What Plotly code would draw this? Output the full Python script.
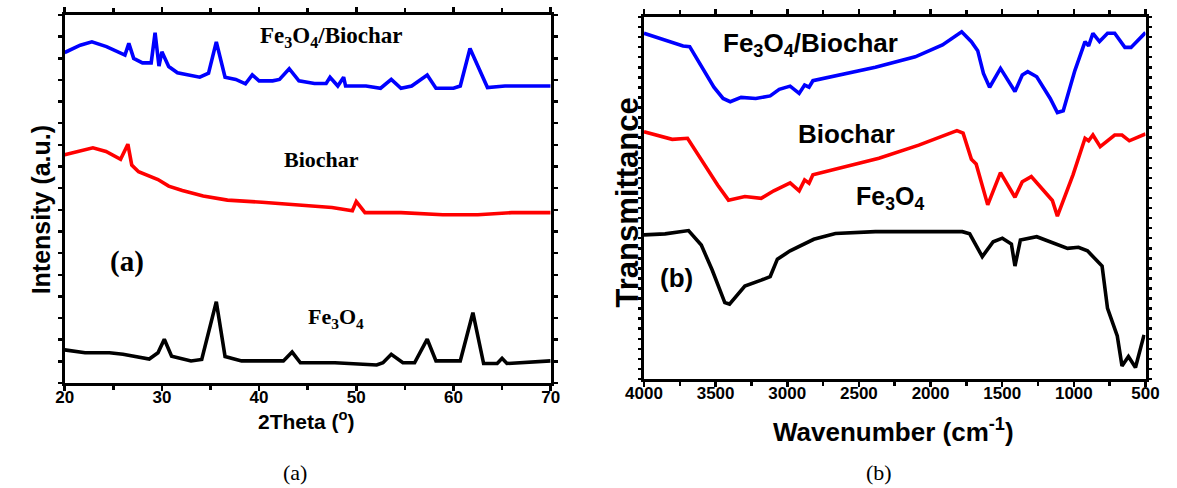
import plotly.graph_objects as go

W, H = 1177, 488

# ---------------- XRD data (panel a) ----------------
theta_fb = [20, 21.6, 22.8, 24.3, 26.2, 26.6, 27.1, 28.0, 28.9, 29.3, 29.7, 30.0, 30.7, 31.6, 33.9,
            34.8, 35.6, 36.5, 37.6, 38.6, 39.3, 40.0, 41.4, 42.1, 43.1, 44.1, 45.7, 46.9, 47.3, 48.1,
            48.7, 48.9, 51.0, 52.5, 53.6, 54.6, 55.7, 57.3, 58.2, 60.0, 60.7, 61.7, 63.5, 65.3, 70]
int_fb = [89.8, 91.8, 92.7, 91.4, 89.1, 92.3, 88.2, 87.0, 87.0, 95.2, 86.1, 90.0, 86.0, 84.3, 83.1,
          84.2, 92.7, 83.1, 82.5, 81.3, 83.7, 82.1, 82.1, 82.5, 85.4, 82.1, 81.4, 81.4, 83.1, 80.7,
          83.1, 80.7, 80.7, 80.1, 82.5, 80.1, 80.7, 83.7, 80.1, 80.1, 80.7, 90.9, 80.3, 80.7, 80.7]

theta_bc = [20, 21.75, 22.9, 24.25, 25.75, 26.5, 26.9, 27.6, 29.6, 30.7, 32.1, 34.25, 36.75, 40.3,
            43.9, 47.5, 49.6, 50.0, 50.9, 54.6, 58.9, 62.5, 66.0, 70]
int_bc = [62.0, 63.3, 63.9, 62.9, 60.8, 64.9, 59.2, 57.4, 55.3, 53.5, 52.3, 50.8, 49.7, 49.1,
          48.5, 47.7, 46.8, 49.3, 46.3, 46.3, 45.7, 45.7, 46.3, 46.3]

theta_fe = [20, 22.1, 24.6, 26.0, 28.7, 29.6, 30.25, 31.0, 33.0, 34.1, 35.6, 36.5, 38.2, 42.5, 43.4,
            44.25, 47.8, 51.0, 52.1, 52.75, 53.6, 54.8, 56.0, 57.3, 58.2, 60.7, 62.0, 63.1, 64.5,
            65.0, 65.5, 70]
int_fe = [9.0, 8.2, 8.2, 7.8, 6.5, 8.2, 11.9, 7.3, 6.0, 6.4, 22.1, 7.2, 6.0, 6.0, 8.4,
          5.5, 5.5, 5.1, 4.9, 5.5, 7.8, 5.5, 5.5, 11.9, 6.0, 6.0, 19.1, 5.3, 5.3,
          6.7, 5.3, 6.0]

# ---------------- FTIR data (panel b) ----------------
wn_fb = [4000, 3815, 3727, 3681, 3600, 3512, 3448, 3398, 3322, 3220, 3119, 3056, 2980, 2917, 2879,
         2848, 2821, 2588, 2385, 2107, 1917, 1783, 1715, 1671, 1631, 1588, 1512, 1411, 1360, 1322,
         1259, 1165, 1115, 1074, 993, 922, 897, 867, 821, 765, 715, 644, 601, 500]
tr_fb = [95.5, 93.2, 92.0, 91.8, 86.3, 80.6, 77.5, 76.6, 77.8, 77.5, 78.2, 80.0, 80.9, 78.9, 81.2,
         80.6, 82.4, 84.3, 86.1, 89.0, 92.3, 95.9, 93.2, 90.7, 84.4, 80.6, 85.8, 79.4, 84.0, 84.9,
         83.5, 77.5, 73.6, 74.1, 85.2, 93.2, 92.0, 95.5, 93.2, 95.5, 95.5, 91.6, 91.6, 95.7]

wn_bc = [4000, 3803, 3696, 3600, 3486, 3410, 3296, 3182, 3094, 2980, 2917, 2879, 2848, 2821, 2588,
         2360, 2082, 1816, 1773, 1740, 1715, 1682, 1639, 1601, 1512, 1411, 1360, 1297, 1150, 1115,
         1006, 922, 897, 867, 816, 715, 664, 613, 500]
tr_bc = [68.3, 66.2, 66.5, 60.5, 53.6, 49.4, 50.4, 49.9, 52.0, 54.2, 52.0, 55.0, 54.1, 56.4, 58.7,
         61.0, 64.6, 68.6, 67.9, 64.2, 60.7, 59.4, 53.1, 48.1, 57.0, 50.2, 54.5, 55.9, 49.3, 45.0,
         56.4, 66.5, 65.8, 67.4, 64.2, 67.4, 67.4, 65.8, 67.7]

wn_fe = [4000, 3853, 3689, 3600, 3524, 3436, 3403, 3296, 3182, 3119, 3069, 2980, 2815, 2664, 2385,
         1778, 1727, 1639, 1563, 1499, 1436, 1411, 1373, 1259, 1044, 968, 905, 803, 765, 697,
         664, 619, 570, 510]
tr_fe = [39.8, 40.1, 41.0, 37.0, 30.1, 21.1, 20.7, 25.7, 27.3, 28.3, 33.1, 35.4, 38.6, 40.2, 40.7,
         40.7, 40.1, 33.8, 37.9, 38.9, 37.3, 31.2, 38.4, 39.3, 36.1, 36.4, 35.4, 31.2, 19.5, 11.9,
         3.6, 6.2, 3.2, 12.2]

xa_ticks = [20, 30, 40, 50, 60, 70]
xb_ticks = [4000, 3500, 3000, 2500, 2000, 1500, 1000, 500]

SANS = "Liberation Sans, Arial, sans-serif"
SERIF = "Liberation Serif, Times New Roman, serif"
LW = 3.6

fig = go.Figure()
fig.add_trace(go.Scatter(x=theta_fb, y=int_fb, mode="lines", line=dict(color="#0000ff", width=LW), xaxis="x", yaxis="y"))
fig.add_trace(go.Scatter(x=theta_bc, y=int_bc, mode="lines", line=dict(color="#ff0000", width=LW), xaxis="x", yaxis="y"))
fig.add_trace(go.Scatter(x=theta_fe, y=int_fe, mode="lines", line=dict(color="#000000", width=LW), xaxis="x", yaxis="y"))
fig.add_trace(go.Scatter(x=wn_fb, y=tr_fb, mode="lines", line=dict(color="#0000ff", width=LW), xaxis="x2", yaxis="y2"))
fig.add_trace(go.Scatter(x=wn_bc, y=tr_bc, mode="lines", line=dict(color="#ff0000", width=LW), xaxis="x2", yaxis="y2"))
fig.add_trace(go.Scatter(x=wn_fe, y=tr_fe, mode="lines", line=dict(color="#000000", width=LW), xaxis="x2", yaxis="y2"))

def px(x):
    return x / W

def py(y):
    return 1 - y / H

ax_common = dict(showline=True, linecolor="black", linewidth=3, mirror="allticks",
                 ticks="outside", tickcolor="black", tickwidth=2.5, showgrid=False, zeroline=False)

fig.update_layout(
    width=W, height=H, margin=dict(l=0, r=0, t=0, b=0),
    paper_bgcolor="white", plot_bgcolor="white", showlegend=False,
    xaxis=dict(domain=[px(47), px(547)], range=[20, 70], tickvals=xa_ticks, ticklen=5,
               ticklabelstandoff=-8,
               minor=dict(dtick=5, ticks="outside", ticklen=4, tickwidth=2.5, tickcolor="black"),
               tickfont=dict(family=SANS, size=17, color="black", weight="bold"), anchor="y", **ax_common),
    yaxis=dict(domain=[py(383), py(15)], range=[0, 100], dtick=100 / 17, tick0=0, ticklen=4,
               showticklabels=False, anchor="x", **ax_common),
    xaxis2=dict(domain=[px(643), px(1159)], range=[4000, 500], tickvals=xb_ticks, ticklen=5,
                ticklabelstandoff=-8,
                minor=dict(dtick=250, ticks="outside", ticklen=4, tickwidth=2.5, tickcolor="black"),
                tickfont=dict(family=SANS, size=17, color="black", weight="bold"), anchor="y2", **ax_common),
    yaxis2=dict(domain=[py(379), py(17)], range=[0, 100], dtick=100 / 36, tick0=0, ticklen=3,
                showticklabels=False, anchor="x2", **ax_common),
)

def A(x, y, text, font, xref="paper", yref="paper", angle=0):
    return dict(x=x, y=y, xref=xref, yref=yref, text=text, font=font, textangle=angle,
                showarrow=False, xanchor="center", yanchor="middle")

ann = []
# panel a labels
ann.append(A(47.5, 94.0, "Fe<sub>3</sub>O<sub>4</sub>/Biochar",
             dict(family=SERIF, size=23, color="black", weight="bold"), "x", "y"))
ann.append(A(46.4, 60.8, "Biochar", dict(family=SERIF, size=22, color="black", weight="bold"), "x", "y"))
ann.append(A(47.9, 17.6, "Fe<sub>3</sub>O<sub>4</sub>", dict(family=SERIF, size=22, color="black", weight="bold"), "x", "y"))
ann.append(A(26.4, 33.0, "(a)", dict(family=SERIF, size=29, color="black", weight="bold"), "x", "y"))
# panel b labels
ann.append(A(2840, 92.5, "Fe<sub>3</sub>O<sub>4</sub>/Biochar",
             dict(family=SANS, size=26, color="black", weight="bold"), "x2", "y2"))
ann.append(A(2589, 67.8, "Biochar", dict(family=SANS, size=26, color="black", weight="bold"), "x2", "y2"))
ann.append(A(2284, 50.0, "Fe<sub>3</sub>O<sub>4</sub>", dict(family=SANS, size=25, color="black", weight="bold"), "x2", "y2"))
ann.append(A(3776, 28.0, "(b)", dict(family=SANS, size=26, color="black", weight="bold"), "x2", "y2"))
# axis titles
ann.append(A(px(296), py(420), "2Theta (<sup>o</sup>)", dict(family=SANS, size=21, color="black", weight="bold")))
ann.append(A(px(23), py(210), "Intensity (a.u.)", dict(family=SANS, size=25, color="black", weight="bold"), angle=-90))
ann.append(A(px(900), py(430), "Wavenumber (cm<sup>-1</sup>)", dict(family=SANS, size=26, color="black", weight="bold")))
ann.append(A(px(627), py(202), "Transmittance", dict(family=SANS, size=31, color="black", weight="bold"), angle=-90))
# captions
ann.append(A(px(284), py(472), "(a)", dict(family=SERIF, size=22, color="black")))
ann.append(A(px(885), py(472), "(b)", dict(family=SERIF, size=22, color="black")))
fig.update_layout(annotations=ann)

fig.write_html("out.html",
               config={"displayModeBar": False, "staticPlot": True},
               post_script="document.body.style.margin='0';document.body.style.padding='0';"
                           "document.documentElement.style.overflow='hidden';")
